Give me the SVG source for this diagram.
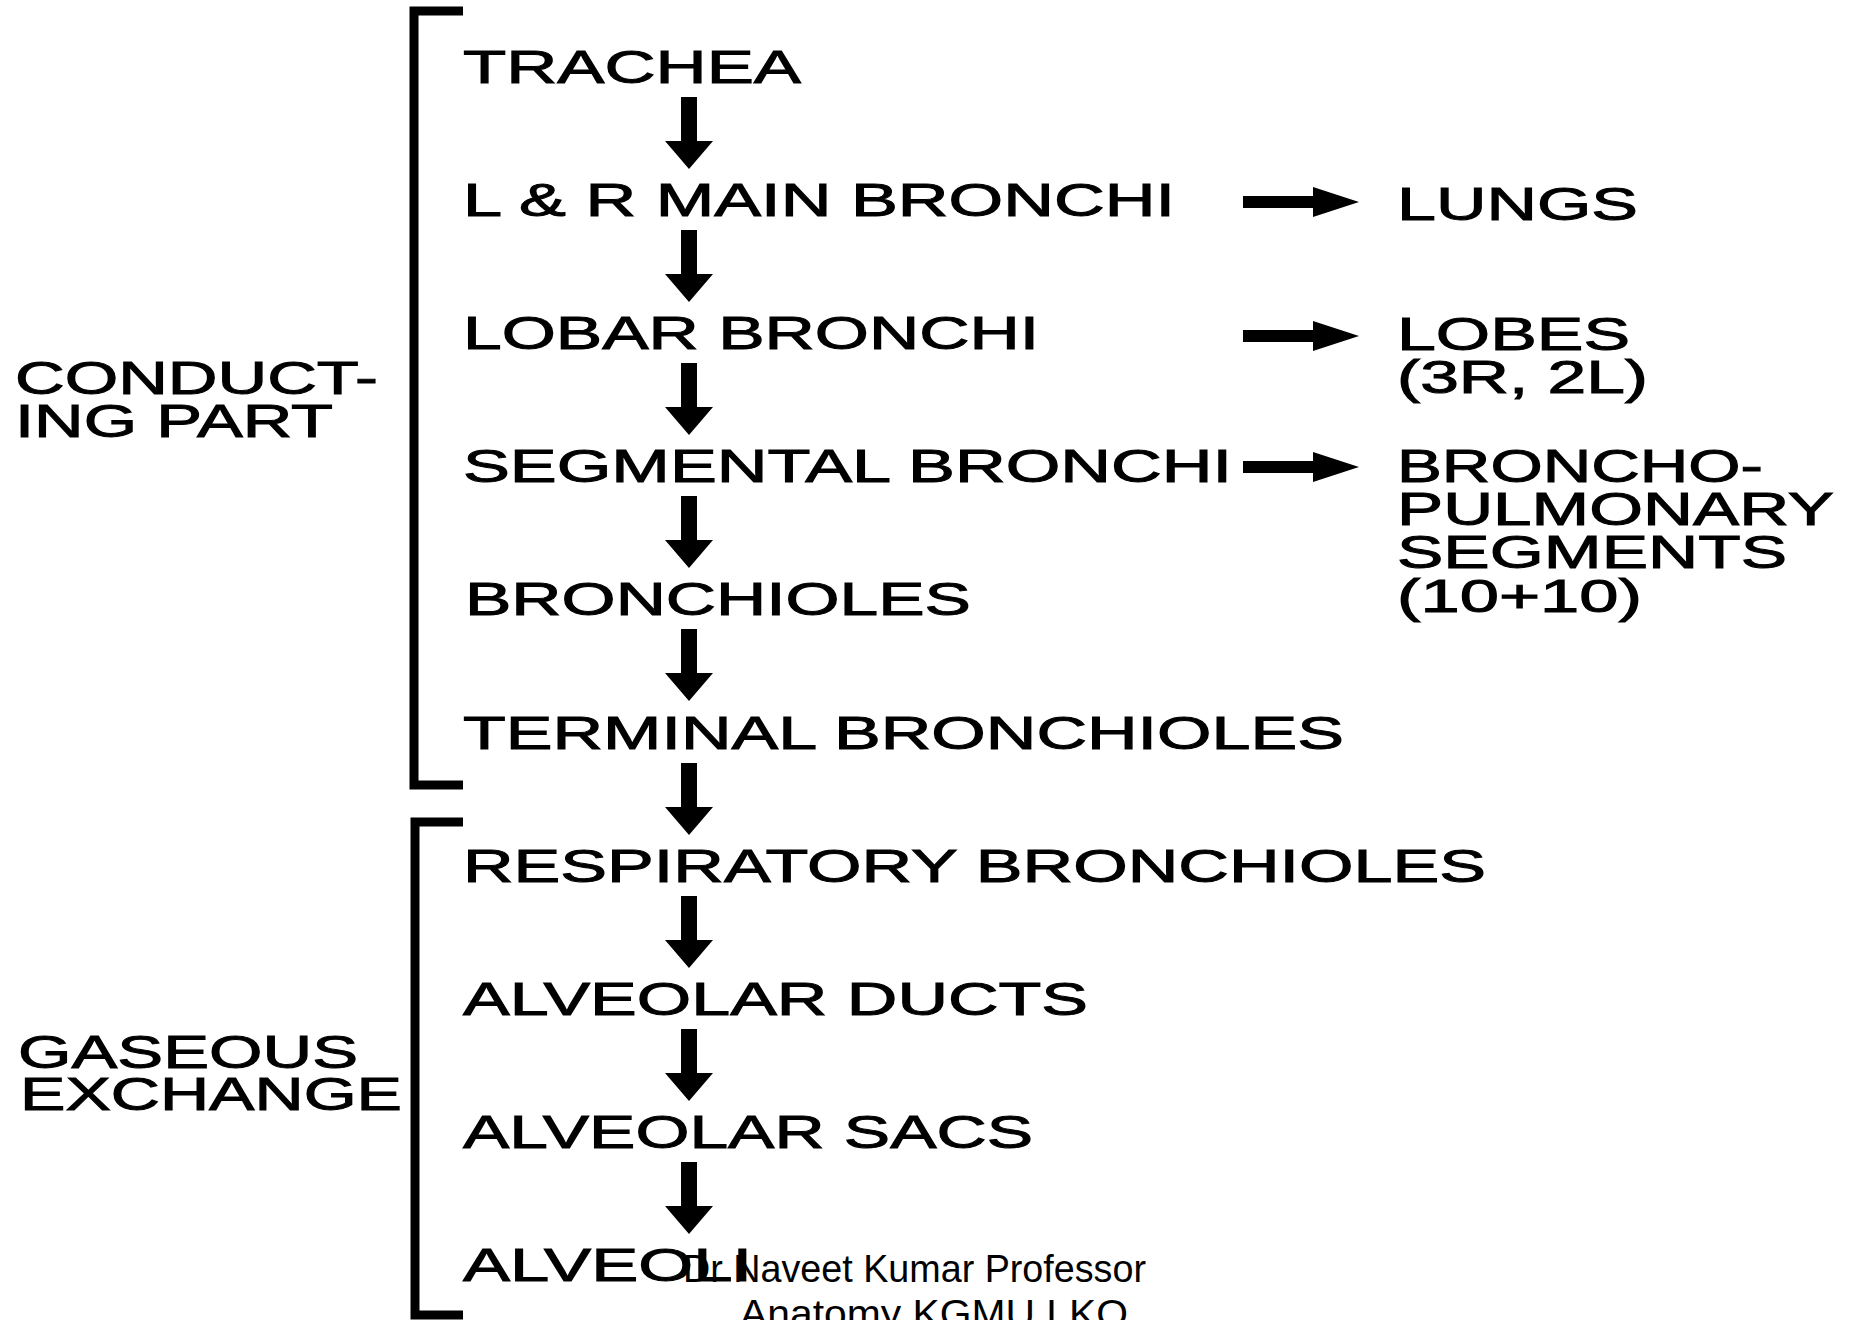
<svg xmlns="http://www.w3.org/2000/svg" xmlns:xlink="http://www.w3.org/1999/xlink" width="1852" height="1320" viewBox="0 0 1852 1320">
<style>
.t{font-family:"Liberation Sans",Arial,Helvetica,sans-serif;font-size:47px;fill:#000;stroke:#000;stroke-width:1;}
.w{font-family:"Liberation Sans",Arial,Helvetica,sans-serif;font-size:38px;fill:#000;}
.br{fill:none;stroke:#000;stroke-width:9;}
</style>
<defs>
<path id="down" d="M-8,0 H8 V44 H24 L0,72 L-24,44 H-8 Z" fill="#000"/>
<path id="right" d="M0,-6 H70 V-15 L116,0 L70,15 V6 H0 Z" fill="#000"/>
</defs>
<rect width="1852" height="1320" fill="#fff"/>

<g id="bracket-conducting"><path class="br" d="M463,11 H414 V785 H463"/></g>
<g id="bracket-gaseous"><path class="br" d="M463,822 H415 V1315 H463"/></g>

<g id="label-conducting">
<text class="t" x="15" y="394" textLength="363" lengthAdjust="spacingAndGlyphs">CONDUCT-</text>
<text class="t" x="15" y="437" textLength="318" lengthAdjust="spacingAndGlyphs">ING PART</text>
</g>
<g id="label-gaseous">
<text class="t" x="18" y="1068" textLength="340" lengthAdjust="spacingAndGlyphs">GASEOUS</text>
<text class="t" x="20" y="1110" textLength="382" lengthAdjust="spacingAndGlyphs">EXCHANGE</text>
</g>

<g id="trachea"><text class="t" x="463" y="83" textLength="338" lengthAdjust="spacingAndGlyphs">TRACHEA</text></g>
<g id="main-bronchi"><text class="t" x="463" y="216" textLength="712" lengthAdjust="spacingAndGlyphs">L &amp; R MAIN BRONCHI</text></g>
<g id="lobar-bronchi"><text class="t" x="463" y="349" textLength="576" lengthAdjust="spacingAndGlyphs">LOBAR BRONCHI</text></g>
<g id="segmental-bronchi"><text class="t" x="463" y="482" textLength="769" lengthAdjust="spacingAndGlyphs">SEGMENTAL BRONCHI</text></g>
<g id="bronchioles"><text class="t" x="465" y="615" textLength="506" lengthAdjust="spacingAndGlyphs">BRONCHIOLES</text></g>
<g id="terminal-bronchioles"><text class="t" x="463" y="749" textLength="881" lengthAdjust="spacingAndGlyphs">TERMINAL BRONCHIOLES</text></g>
<g id="respiratory-bronchioles"><text class="t" x="463" y="882" textLength="1023" lengthAdjust="spacingAndGlyphs">RESPIRATORY BRONCHIOLES</text></g>
<g id="alveolar-ducts"><text class="t" x="463" y="1015" textLength="625" lengthAdjust="spacingAndGlyphs">ALVEOLAR DUCTS</text></g>
<g id="alveolar-sacs"><text class="t" x="463" y="1148" textLength="570" lengthAdjust="spacingAndGlyphs">ALVEOLAR SACS</text></g>
<g id="alveoli"><text class="t" x="463" y="1281" textLength="289" lengthAdjust="spacingAndGlyphs">ALVEOLI</text></g>

<g id="lungs"><text class="t" x="1397" y="220" textLength="241" lengthAdjust="spacingAndGlyphs">LUNGS</text></g>
<g id="lobes">
<text class="t" x="1397" y="350" textLength="233" lengthAdjust="spacingAndGlyphs">LOBES</text>
<text class="t" x="1397" y="393" textLength="251" lengthAdjust="spacingAndGlyphs">(3R, 2L)</text>
</g>
<g id="segments">
<text class="t" x="1397" y="482" textLength="366" lengthAdjust="spacingAndGlyphs">BRONCHO-</text>
<text class="t" x="1397" y="525" textLength="437" lengthAdjust="spacingAndGlyphs">PULMONARY</text>
<text class="t" x="1397" y="568" textLength="390" lengthAdjust="spacingAndGlyphs">SEGMENTS</text>
<text class="t" x="1397" y="612" textLength="245" lengthAdjust="spacingAndGlyphs">(10+10)</text>
</g>

<g id="connectors">
<use xlink:href="#down" x="689" y="97"/>
<use xlink:href="#down" x="689" y="230"/>
<use xlink:href="#down" x="689" y="363"/>
<use xlink:href="#down" x="689" y="496"/>
<use xlink:href="#down" x="689" y="629"/>
<use xlink:href="#down" x="689" y="763"/>
<use xlink:href="#down" x="689" y="896"/>
<use xlink:href="#down" x="689" y="1029"/>
<use xlink:href="#down" x="689" y="1162"/>
<use xlink:href="#right" x="1243" y="202"/>
<use xlink:href="#right" x="1243" y="336"/>
<use xlink:href="#right" x="1243" y="467"/>
</g>

<g id="watermark">
<text class="w" x="683" y="1282" textLength="463" lengthAdjust="spacingAndGlyphs">Dr Naveet Kumar Professor</text>
<text class="w" x="740" y="1327" textLength="388" lengthAdjust="spacingAndGlyphs">Anatomy KGMU LKO</text>
</g>
</svg>
